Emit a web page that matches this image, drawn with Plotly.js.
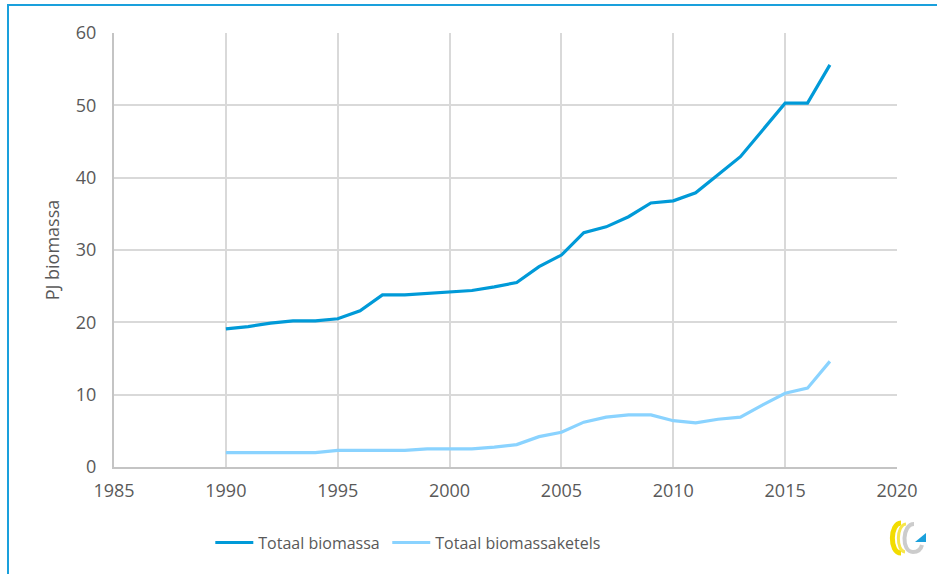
<!DOCTYPE html>
<html>
<head>
<meta charset="utf-8">
<script src="https://cdn.plot.ly/plotly-3.0.1.min.js"></script>
<style>
html,body{margin:0;padding:0;background:#fff;}
#wrap{position:relative;width:937px;height:574px;overflow:hidden;}
#chart{position:absolute;left:0;top:0;width:937px;height:574px;}
#frame{position:absolute;left:7px;top:4px;width:940px;height:600px;border-top:2px solid #1aa0dc;border-left:2px solid #1aa0dc;pointer-events:none;}
#logo{position:absolute;left:884px;top:519px;}
</style>
</head>
<body>
<div id="wrap">
<div id="chart"></div>
<div id="frame"></div>
<svg id="logo" width="46" height="38" viewBox="0 0 46 38">
  <path d="M30 5 C18 5 17 33 29 33 C34 33 37 30 38 26" stroke="#cccccc" stroke-width="4" fill="none"/>
  <path d="M17 4 C6 4 5 34 17 34" stroke="#f2dc00" stroke-width="5" fill="none"/>
  <path d="M22 5 C12 6 12 32 21 33" stroke="#f7e64a" stroke-width="3" fill="none"/>
  <path d="M31 23 L42 14 L42 23 Z" fill="#1aa0dc"/>
</svg>
</div>
<script>
const years = [1990,1991,1992,1993,1994,1995,1996,1997,1998,1999,2000,2001,2002,2003,2004,2005,2006,2007,2008,2009,2010,2011,2012,2013,2014,2015,2016,2017];
const totaalBiomassa = [19.1,19.4,19.9,20.2,20.2,20.5,21.6,23.8,23.8,24.0,24.1,24.4,24.9,25.5,27.7,29.3,32.4,33.2,34.6,36.5,36.8,37.9,40.4,42.9,46.6,50.3,50.3,55.6];
const totaalBiomassaketels = [2.0,2.0,2.0,2.0,2.0,2.3,2.3,2.3,2.3,2.5,2.5,2.5,2.75,3.1,4.2,4.8,6.2,6.9,7.2,7.2,6.4,6.1,6.6,6.9,8.6,10.2,10.9,14.6];
const seriesNames = ['Totaal biomassa','Totaal biomassaketels'];
const xTicks = [1985,1990,1995,2000,2005,2010,2015,2020];
const yTicks = [0,10,20,30,40,50,60];

const font = '"Open Sans", "Noto Sans", sans-serif';
const legFont = {family:font, size:16, color:'#595959'};
const traces = [
  {x: years, y: totaalBiomassa, name: seriesNames[0], type:'scatter', mode:'lines',
   line:{color:'#009ad8', width:3.2}, legend:'legend'},
  {x: years, y: totaalBiomassaketels, name: seriesNames[1], type:'scatter', mode:'lines',
   line:{color:'#8ad3ff', width:3.2}, legend:'legend2'}
];
const layout = {
  width:937, height:574,
  margin:{l:114, r:40, t:33, b:107},
  paper_bgcolor:'#fff', plot_bgcolor:'#fff',
  font:{family:font, color:'#595959', size:18},
  showlegend:true,
  legend:{orientation:'h', x:0.123, xanchor:'left', y:-0.135, yanchor:'top', font:legFont, itemwidth:38},
  legend2:{orientation:'h', x:0.349, xanchor:'left', y:-0.135, yanchor:'top', font:legFont, itemwidth:38},
  xaxis:{range:[1985,2020], tickvals:xTicks, ticktext:xTicks.map(String),
    showgrid:true, gridcolor:'#d9d9d9', gridwidth:2,
    showline:true, linecolor:'#c4c4c4', linewidth:2, zeroline:false,
    ticks:'', ticklabelstandoff:6, tickfont:{family:font, size:18, color:'#595959'}, fixedrange:true},
  yaxis:{range:[0,60], tickvals:yTicks, ticktext:yTicks.map(String),
    showgrid:true, gridcolor:'#d9d9d9', gridwidth:2,
    showline:true, linecolor:'#c4c4c4', linewidth:2, zeroline:false,
    ticks:'', ticklabelstandoff:12, tickfont:{family:font, size:18, color:'#595959'},
    title:{text:'PJ biomassa', font:{family:font, size:18, color:'#595959'}, standoff:12}, fixedrange:true}
};
Plotly.newPlot('chart', traces, layout, {displayModeBar:false, staticPlot:true});
</script>
</body>
</html>
